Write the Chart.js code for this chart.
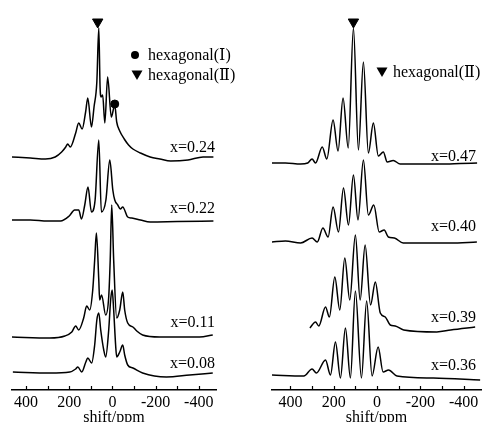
<!DOCTYPE html>
<html>
<head>
<meta charset="utf-8">
<script src="https://cdn.jsdelivr.net/npm/chart.js@4.4.0/dist/chart.umd.min.js"></script>
<style>
body { margin: 0; background: #fff; }
#wrap { position: relative; width: 485px; height: 422px; }
canvas { position: absolute; top: 0; }
</style>
</head>
<body>
<div id="wrap">
  <canvas id="leftChart" width="240" height="422" style="left:0"></canvas>
  <canvas id="rightChart" width="240" height="422" style="left:245px"></canvas>
</div>
<script>
// axis labels
var tickValues = [400, 200, 0, -200, -400];
var minorTicks = [400, 300, 200, 100, 0, -100, -200, -300, -400];

// left panel: x = 0.24, 0.22, 0.11, 0.08
var leftTags = ['x=0.24', 'x=0.22', 'x=0.11', 'x=0.08'];
var leftOffsets = [233, 170, 53, 18];
var leftTagY = [238, 177, 63, 22];

var ppm24 = [465, 380, 310, 265, 235, 216, 207, 195, 170, 156, 140, 124, 114, 97, 85, 72, 63, 57, 52, 45, 35, 22, 5, -11, -20, -34, -55, -75, -95, -130, -175, -220, -270, -350, -420, -468];
var int24 = [0, -1, -2, 0, 5, 10, 13, 10, 24, 34, 28, 45, 59, 30, 50, 75, 129, 70, 60, 62, 34, 80, 40, 52, 35, 26, 18, 12, 8, 4, 0, -2, -4, -3, 0, 0];

var ppm22 = [465, 380, 300, 240, 200, 175, 156, 143, 128, 113, 97, 80, 63, 51, 30, 12, -2, -11, -25, -37, -48, -71, -90, -130, -175, -300, -468];
var int22 = [0, 0, -1, -1, 4, 10, 10, 1, 15, 33, 8, 20, 80, 8, 20, 60, 30, 20, 15, 11, 13, 3, 2, 0, -2, -1.5, -1];

var ppm11 = [465, 290, 220, 188, 170, 156, 133, 119, 105, 91, 82, 74, 63, 59, 50, 31, 17, 10, 3, -6, -20, -34, -48, -57, -71, -95, -113, -140, -219, -404, -465];
var int11 = [0, -1, 1, 5, 11, 7, 19, 31, 27, 47, 77, 104, 57, 37, 42, 22, 40, 77, 132, 77, 19, 27, 45, 27, 14, 10, 6, 2, 0, 0, 2];

var ppm08 = [461, 290, 197, 170, 160, 142, 123, 114, 96, 82, 72, 63, 54, 40, 31, 17, 8, 1, -6, -15, -20, -34, -48, -57, -71, -95, -140, -250, -358, -465];
var int08 = [0, -1, 0, 3, 5, 0, 10, 14, 9, 27, 52, 59, 42, 22, 15, 42, 72, 82, 62, 27, 15, 20, 27, 17, 7, 4, -1, -5, -3, -1];

// right panel: x = 0.47, 0.40, 0.39, 0.36
var rightTags = ['x=0.47', 'x=0.40', 'x=0.39', 'x=0.36'];
var rightOffsets = [227, 148, 60, 14];
var rightTagY = [229, 159, 68, 20];

var ppm47 = [485, 423, 353, 320, 300, 284, 253, 232, 203, 180, 157, 133, 109, 86, 63, 40, 17, -6, -29, -47, -75, -107, -291, -384, -462];
var int47 = [0, 0, -1, 0, 4, 0, 16, 4, 43, 12, 65, 15, 135, 13, 101, 10, 40, 7, 11, 1, 2.5, -1, -1, -0.5, 0];

var ppm40 = [485, 423, 353, 300, 276, 250, 226, 203, 178, 155, 132, 109, 88, 63, 40, 15, -10, -33, -52, -80, -121, -338, -461];
var int40 = [0, 1, -1, 4, 0, 14, 5, 35, 10, 54, 17, 67, 22, 82, 27, 37, 10, 12, 5, 4, -1, -1, 0];

var ppm39 = [310, 284, 269, 238, 220, 195, 172, 149, 126, 100, 78, 55, 30, 8, -15, -38, -61, -84, -123, -276, -340, -453];
var int39 = [2, 8, 4, 23, 13, 53, 20, 72, 30, 95, 30, 85, 25, 48, 17, 13, 5, 4, 0, -2, 0, 3];

var ppm36 = [485, 338, 300, 280, 238, 215, 192, 169, 146, 123, 100, 72, 48, 23, -5, -28, -53, -92, -260, -476];
var int36 = [1, 0, 7, 3, 16, 1, 34, -2, 48, -2, 85, -2, 75, 0, 29, 4, 6, 0, -2, -4];

function trace(ppm, amp, off) {
  return ppm.map(function (p, i) { return { x: p, y: amp[i] + off }; });
}

var serif = "'Liberation Serif', 'DejaVu Serif', serif";

var decor = {
  id: 'decor',
  afterDraw: function (chart, args, opts) {
    var ctx = chart.ctx, xs = chart.scales.x, ys = chart.scales.y, area = chart.chartArea;
    ctx.save();
    // inward tick marks on the shift axis
    ctx.strokeStyle = '#000';
    ctx.lineWidth = 1.2;
    minorTicks.forEach(function (v) {
      var px = Math.round(xs.getPixelForValue(v)) + 0.5;
      ctx.beginPath();
      ctx.moveTo(px, area.bottom);
      ctx.lineTo(px, area.bottom - 4);
      ctx.stroke();
    });
    ctx.fillStyle = '#000';
    ctx.font = '16px ' + serif;
    ctx.textBaseline = 'alphabetic';
    ctx.textAlign = 'right';
    opts.tags.forEach(function (t, i) {
      ctx.fillText(t, area.right - opts.tagInset, ys.getPixelForValue(opts.tagY[i]));
    });
    ctx.textAlign = 'left';
    opts.legend.forEach(function (it) {
      ctx.beginPath();
      if (it.sym === 'circle') {
        ctx.arc(it.x, it.y, 4, 0, Math.PI * 2);
      } else {
        ctx.moveTo(it.x - 5.5, it.y - 4.5);
        ctx.lineTo(it.x + 5.5, it.y - 4.5);
        ctx.lineTo(it.x, it.y + 5);
        ctx.closePath();
      }
      ctx.fill();
      ctx.fillText(it.text, it.tx, it.y + 5);
    });
    ctx.restore();
  }
};

function makePanel(id, traces, marks, xmin, xmax, pad, deco) {
  var datasets = traces.map(function (d) {
    return { data: d, borderColor: '#000', borderWidth: 1.5, pointRadius: 0, fill: false, cubicInterpolationMode: 'monotone' };
  });
  marks.forEach(function (m) {
    datasets.push({ data: [{ x: m.x, y: m.y }], showLine: false, pointStyle: m.style, rotation: m.rot || 0, pointRadius: m.r, backgroundColor: '#000', borderColor: '#000' });
  });
  return new Chart(id, {
    type: 'line',
    data: { datasets: datasets },
    plugins: [decor],
    options: {
      responsive: false,
      animation: false,
      devicePixelRatio: 1,
      layout: { autoPadding: false, padding: { left: pad[0], right: pad[1], top: 0, bottom: 0 } },
      plugins: { legend: { display: false }, tooltip: { enabled: false }, decor: deco },
      scales: {
        x: {
          type: 'linear', reverse: true, min: xmin, max: xmax,
          ticks: {
            stepSize: 100, maxTicksLimit: 20, includeBounds: false, autoSkip: false, maxRotation: 0, padding: 3,
            color: '#000', font: { family: serif, size: 16 },
            callback: function (v) { return tickValues.indexOf(v) >= 0 ? String(v) : ''; }
          },
          grid: { display: true, drawOnChartArea: false, drawTicks: false },
          border: { display: true, color: '#000', width: 1.5 },
          title: { display: true, text: 'shift/ppm', color: '#000', font: { family: serif, size: 16, lineHeight: 1.1 }, padding: { top: 0, bottom: -5 } },
          afterFit: function (s) { s.height = 32; }
        },
        y: { display: false, min: 0, max: 390 }
      }
    }
  });
}

makePanel('leftChart',
  [trace(ppm24, int24, leftOffsets[0]), trace(ppm22, int22, leftOffsets[1]), trace(ppm11, int11, leftOffsets[2]), trace(ppm08, int08, leftOffsets[3])],
  [{ x: 68, y: 368, style: 'triangle', rot: 180, r: 6 }, { x: -11, y: 286, style: 'circle', r: 4 }],
  -480, 465, [12, 24],
  {
    tags: leftTags, tagY: leftTagY, tagInset: 1,
    legend: [
      { sym: 'circle', x: 135, y: 55, tx: 148, text: 'hexagonal(Ⅰ)' },
      { sym: 'triangle', x: 137, y: 75, tx: 148, text: 'hexagonal(Ⅱ)' }
    ]
  });

makePanel('rightChart',
  [trace(ppm47, int47, rightOffsets[0]), trace(ppm40, int40, rightOffsets[1]), trace(ppm39, int39, rightOffsets[2]), trace(ppm36, int36, rightOffsets[3])],
  [{ x: 109, y: 368, style: 'triangle', rot: 180, r: 6 }],
  -480, 485, [27, 4],
  {
    tags: rightTags, tagY: rightTagY, tagInset: 5,
    legend: [
      { sym: 'triangle', x: 137, y: 72, tx: 148, text: 'hexagonal(Ⅱ)' }
    ]
  });
</script>
</body>
</html>
